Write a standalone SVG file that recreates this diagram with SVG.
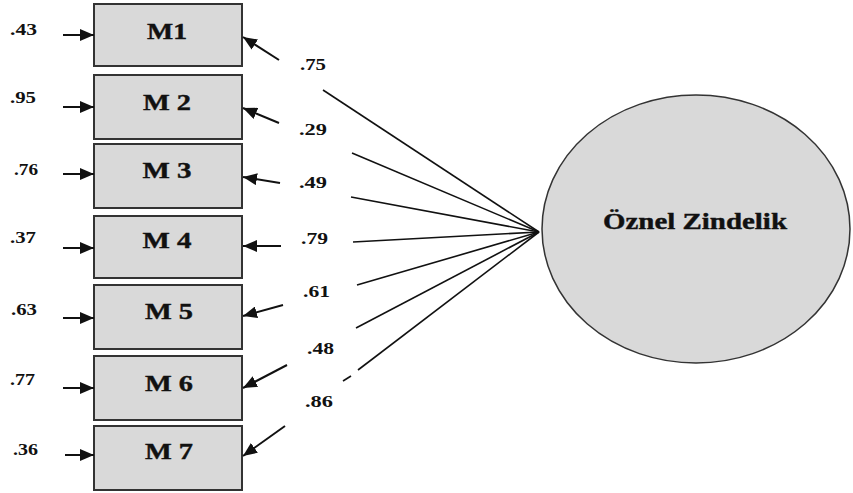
<svg xmlns="http://www.w3.org/2000/svg" width="853" height="493" viewBox="0 0 853 493">
<style>
.box{fill:#d9d9d9;stroke:#333;stroke-width:2}
.lbl{font-weight:bold;font-size:23px;fill:#111;stroke:#111;stroke-width:0.4;text-anchor:middle}
.num{font-weight:bold;font-size:17px;fill:#111}
.ar{stroke:#111;stroke-width:2;fill:none}
.ln{stroke:#111;stroke-width:1.6;fill:none}
</style>
<defs>
<marker id="ah" markerUnits="userSpaceOnUse" markerWidth="15" markerHeight="12" refX="14" refY="6" orient="auto">
<path d="M0,0 L14,6 L0,12 z" fill="#111"/>
</marker>
</defs>
<rect width="853" height="493" fill="#fff"/>
<g font-family="'Liberation Serif', 'Times New Roman', serif">
<g id="latent">
<ellipse cx="696" cy="229" rx="154" ry="134" fill="#d9d9d9" stroke="#333" stroke-width="1.5"/>
<text x="695" y="229" class="lbl" textLength="184" lengthAdjust="spacingAndGlyphs">Öznel  Zindelik</text>
</g>
<g id="m1"><rect class="box" x="94" y="4" width="148" height="62"/><text class="lbl" x="167" y="39" textLength="40" lengthAdjust="spacingAndGlyphs">M1</text></g>
<g id="m2"><rect class="box" x="94" y="75" width="148" height="64"/><text class="lbl" x="167" y="110" textLength="48" lengthAdjust="spacingAndGlyphs">M 2</text></g>
<g id="m3"><rect class="box" x="94" y="144" width="148" height="64"/><text class="lbl" x="167" y="178" textLength="49" lengthAdjust="spacingAndGlyphs">M 3</text></g>
<g id="m4"><rect class="box" x="94" y="216" width="148" height="62"/><text class="lbl" x="167" y="248" textLength="49" lengthAdjust="spacingAndGlyphs">M 4</text></g>
<g id="m5"><rect class="box" x="94" y="285" width="148" height="64"/><text class="lbl" x="169" y="319" textLength="48" lengthAdjust="spacingAndGlyphs">M 5</text></g>
<g id="m6"><rect class="box" x="94" y="356" width="148" height="64"/><text class="lbl" x="169" y="391" textLength="48" lengthAdjust="spacingAndGlyphs">M 6</text></g>
<g id="m7"><rect class="box" x="94" y="426" width="148" height="64"/><text class="lbl" x="169" y="459" textLength="48" lengthAdjust="spacingAndGlyphs">M  7</text></g>
<g id="errors">
<text class="num" x="10" y="35" textLength="27" lengthAdjust="spacingAndGlyphs">.43</text>
<text class="num" x="10" y="103" textLength="26" lengthAdjust="spacingAndGlyphs">.95</text>
<text class="num" x="14" y="175" textLength="24" lengthAdjust="spacingAndGlyphs">.76</text>
<text class="num" x="10" y="243" textLength="26" lengthAdjust="spacingAndGlyphs">.37</text>
<text class="num" x="11" y="315" textLength="26" lengthAdjust="spacingAndGlyphs">.63</text>
<text class="num" x="10" y="385" textLength="25" lengthAdjust="spacingAndGlyphs">.77</text>
<text class="num" x="13" y="455" textLength="25" lengthAdjust="spacingAndGlyphs">.36</text>
</g>
<g id="loadings">
<text class="num" x="300" y="70" textLength="26" lengthAdjust="spacingAndGlyphs">.75</text>
<text class="num" x="299" y="135" textLength="28" lengthAdjust="spacingAndGlyphs">.29</text>
<text class="num" x="299" y="188" textLength="28" lengthAdjust="spacingAndGlyphs">.49</text>
<text class="num" x="301" y="244" textLength="27" lengthAdjust="spacingAndGlyphs">.79</text>
<text class="num" x="303" y="297" textLength="27" lengthAdjust="spacingAndGlyphs">.61</text>
<text class="num" x="307" y="354" textLength="27" lengthAdjust="spacingAndGlyphs">.48</text>
<text class="num" x="305" y="407" textLength="28" lengthAdjust="spacingAndGlyphs">.86</text>
</g>
</g>
<g id="connectors">
<line class="ar" x1="63" y1="35" x2="94" y2="35" marker-end="url(#ah)"/>
<line class="ar" x1="63" y1="107" x2="94" y2="107" marker-end="url(#ah)"/>
<line class="ar" x1="63" y1="174" x2="94" y2="174" marker-end="url(#ah)"/>
<line class="ar" x1="63" y1="248" x2="94" y2="248" marker-end="url(#ah)"/>
<line class="ar" x1="63" y1="318" x2="94" y2="318" marker-end="url(#ah)"/>
<line class="ar" x1="63" y1="388" x2="94" y2="388" marker-end="url(#ah)"/>
<line class="ar" x1="65" y1="455" x2="94" y2="455" marker-end="url(#ah)"/>
<line class="ar" x1="279" y1="60" x2="243" y2="37" marker-end="url(#ah)"/>
<line class="ar" x1="279" y1="123" x2="243" y2="108" marker-end="url(#ah)"/>
<line class="ar" x1="280" y1="183" x2="243" y2="177" marker-end="url(#ah)"/>
<line class="ar" x1="281" y1="246" x2="243" y2="246" marker-end="url(#ah)"/>
<line class="ar" x1="283" y1="305" x2="243" y2="316" marker-end="url(#ah)"/>
<line class="ar" x1="287" y1="365" x2="243" y2="388" marker-end="url(#ah)"/>
<line class="ar" x1="285" y1="426" x2="243" y2="456" marker-end="url(#ah)"/>
<line class="ln" x1="323" y1="90" x2="539" y2="232"/>
<line class="ln" x1="352" y1="153" x2="539" y2="232"/>
<line class="ln" x1="351" y1="197" x2="539" y2="232"/>
<line class="ln" x1="353" y1="242" x2="539" y2="232"/>
<line class="ln" x1="357" y1="285" x2="539" y2="232"/>
<line class="ln" x1="356" y1="328" x2="539" y2="232"/>
<line class="ln" x1="358" y1="370" x2="539" y2="232"/>
<line class="ln" x1="343" y1="381" x2="351" y2="376"/>
</g>
</svg>
